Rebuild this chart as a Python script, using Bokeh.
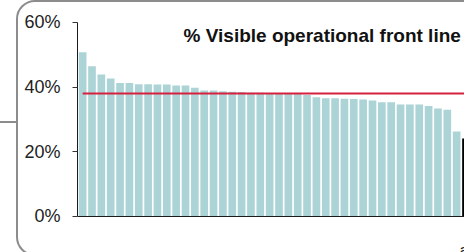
from bokeh.plotting import figure
from bokeh.models import ColumnDataSource, Range1d, FixedTicker, Label, Span, InlineStyleSheet
from bokeh.embed import file_html
from bokeh.resources import INLINE

# ---- data ----
title_text = "% Visible operational front line"
site_values = [50.8, 46.5, 43.9, 42.7, 41.3, 41.3, 40.9, 40.9, 40.8, 40.8,
               40.5, 40.5, 39.8, 39.0, 39.0, 38.7, 38.6, 38.5, 38.3, 38.3,
               38.1, 38.0, 38.0, 37.9, 37.6, 36.9, 36.6, 36.6, 36.4, 36.3,
               36.2, 35.9, 35.3, 35.3, 34.6, 34.6, 34.6, 34.2, 33.4, 33.0,
               26.3]
highlight_value = 24.1
highlight_label = "all"
average_value = 38.0
y_ticks = [0, 20, 40, 60]
y_tick_labels = ["0%", "20%", "40%", "60%"]

bar_color = "#acd4d7"
highlight_color = "#000000"
line_color = "#d6203e"
frame_color = "#8c8c8c"
font = "Liberation Sans"

n = len(site_values)
xs = list(range(n + 1))
tops = site_values + [highlight_value]
colors = [bar_color] * n + [highlight_color]
src = ColumnDataSource(dict(x=xs, top=tops, color=colors))
avg_src = ColumnDataSource(dict(x=xs, y=[average_value] * len(xs)))

p = figure(width=464, height=252, output_backend="svg", toolbar_location=None,
           x_range=Range1d(-0.551, 40.84), y_range=Range1d(-11.134, 66.8),
           x_axis_location=None,
           min_border_left=77, min_border_right=0, min_border_top=0,
           min_border_bottom=0)
p.outline_line_color = None
p.xgrid.visible = False
p.ygrid.visible = False
p.background_fill_color = "white"
p.border_fill_color = "white"

p.vbar(x="x", top="top", bottom=0, width=0.82, color="color",
       line_color=None, source=src)
p.line(x="x", y="y", source=avg_src, line_color=line_color, line_width=2)

# baseline (category axis line)
p.add_layout(Span(location=0, dimension="width", line_color="#1a1a1a",
                  line_width=1))

# y axis
ya = p.yaxis[0]
ya.ticker = FixedTicker(ticks=y_ticks)
ya.major_label_overrides = {t: l for t, l in zip(y_ticks, y_tick_labels)}
ya.bounds = (0, 60)
ya.minor_tick_line_color = None
ya.major_tick_in = 0
ya.major_tick_out = 5
ya.major_tick_line_color = "#333333"
ya.axis_line_color = "#1a1a1a"
ya.major_label_text_font = font
ya.major_label_text_font_size = "18px"
ya.major_label_text_color = "#222222"
ya.major_label_standoff = 12

p.add_layout(Label(x=10.79, y=56.0, text=title_text, text_font=font,
                   text_font_size="19px", text_font_style="bold",
                   text_color="#111111", text_baseline="alphabetic",
                   text_align="left"))
p.add_layout(Label(x=40.3, y=-10.6, text=highlight_label, text_font=font,
                   text_font_size="17px", text_color="#222222",
                   text_baseline="alphabetic", text_align="left"))

css = """
:host { position: relative; overflow: hidden; }
:host::before { content: ""; position: absolute; left: 0; top: 121px; width: 17px;
  height: 2px; background: %s; z-index: 5; pointer-events: none; }
:host::after { content: ""; position: absolute; left: 16px; top: 0; width: 480px;
  height: 256px; border: 2px solid %s; border-radius: 19px; box-sizing: border-box;
  z-index: 5; pointer-events: none; }
""" % (frame_color, frame_color)
p.stylesheets = [InlineStyleSheet(css=css)]

open("out.html", "w").write(file_html(p, INLINE))
